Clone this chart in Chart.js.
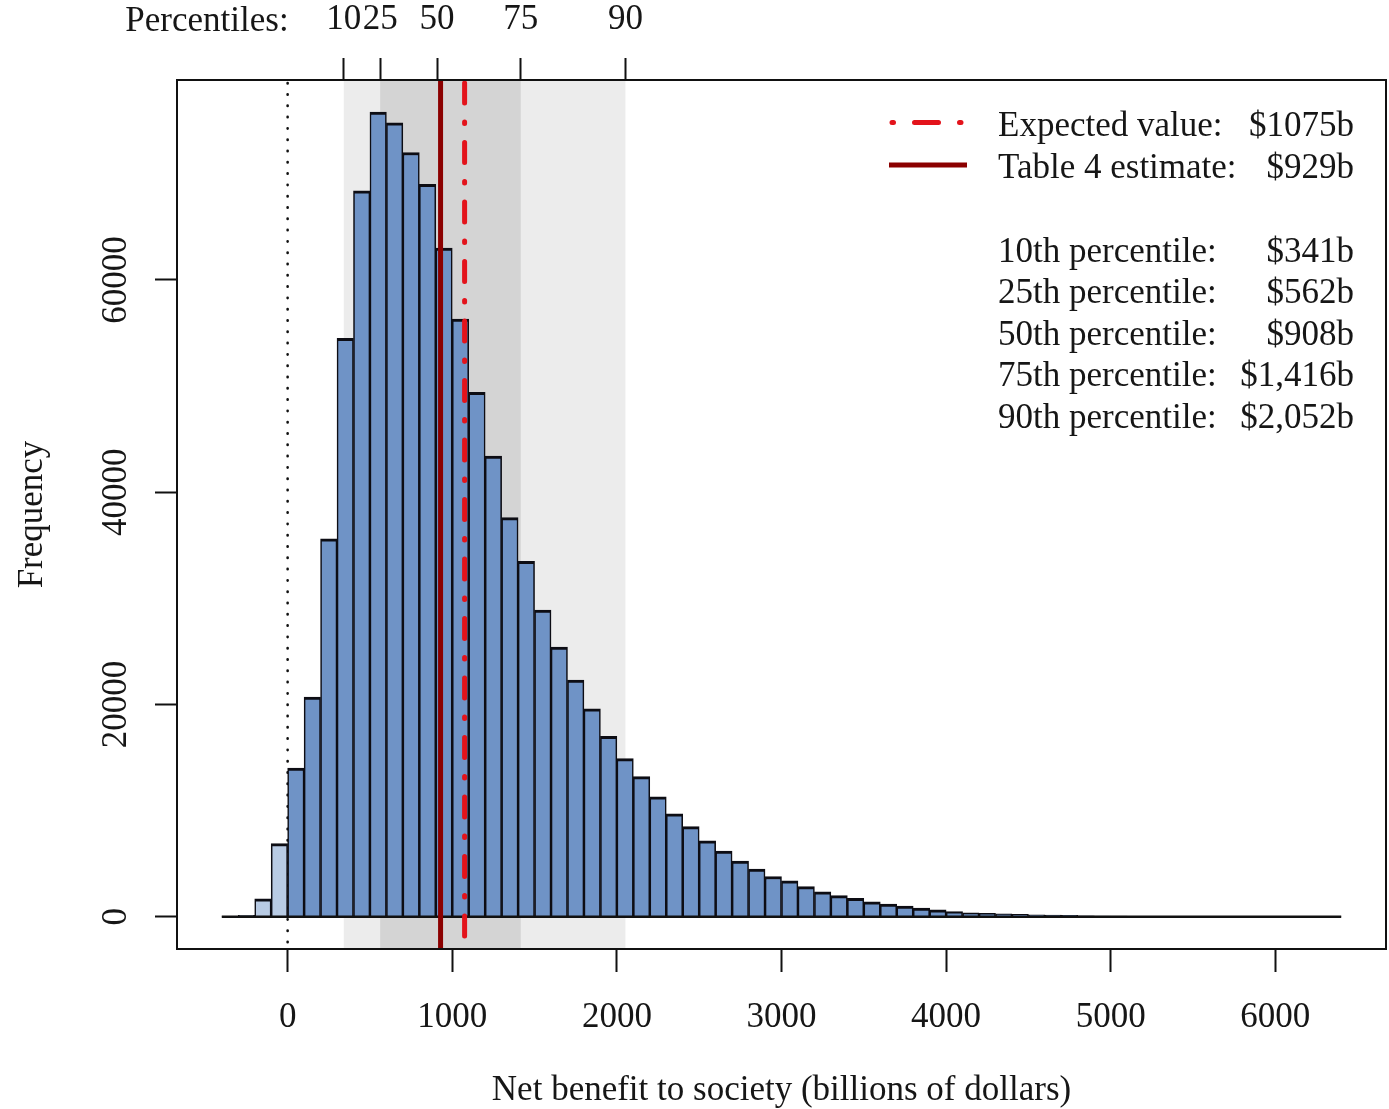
<!DOCTYPE html>
<html>
<head>
<meta charset="utf-8">
<script src="https://cdn.jsdelivr.net/npm/chart.js@4.4.1/dist/chart.umd.min.js"></script>
<style>
html,body{margin:0;padding:0;background:#fff;}
#wrap{width:1389px;height:1109px;position:relative;}
</style>
</head>
<body>
<div id="wrap"><canvas id="c"></canvas></div>
<script>
// ---------------- data ----------------
const binLefts = [-400,-300,-200,-100,0,100,200,300,400,500,600,700,800,900,
  1000,1100,1200,1300,1400,1500,1600,1700,1800,1900,2000,2100,2200,2300,2400,2500,
  2600,2700,2800,2900,3000,3100,3200,3300,3400,3500,3600,3700,3800,3900,4000,4100,
  4200,4300,4400,4500,4600,4700,4800,4900,5000,5100,5200,5300,5400,5500,5600,5700,
  5800,5900,6000,6100,6200,6300];
const binWidth = 100;
const counts = [10,140,1700,6900,14000,20700,35600,54500,68400,75800,74800,72000,69000,63000,
  56300,49400,43400,37600,33500,28900,25400,22300,19600,17000,14900,13200,11300,9700,8500,7150,
  6200,5250,4500,3800,3400,2850,2350,2000,1750,1400,1200,1000,820,650,500,380,
  320,270,240,190,160,130,100,80,60,45,35,25,18,14,10,7,
  5,4,3,2,1,1];

const percentileValues = [341, 562, 908, 1416, 2052];
const percentileTickLabels = ['10', '25', '50', '75', '90'];
const expectedValue = 1075;
const table4Estimate = 929;

const xTickValues = [0, 1000, 2000, 3000, 4000, 5000, 6000];
const yTickValues = [0, 20000, 40000, 60000];

const legendLineLabels = ['Expected value:', 'Table 4 estimate:'];
const legendLineValues = ['$1075b', '$929b'];
const percentileRowLabels = ['10th percentile:', '25th percentile:', '50th percentile:', '75th percentile:', '90th percentile:'];
const percentileRowValues = ['$341b', '$562b', '$908b', '$1,416b', '$2,052b'];

// ---------------- derived ----------------
const xLo = binLefts[0], xHi = binLefts[binLefts.length - 1] + binWidth;
const xPad = (xHi - xLo) * 0.04;
const yHi0 = Math.max(...counts);
const yPad = yHi0 * 0.04;

const barPoints = binLefts.map((l, i) => ({x: l + binWidth / 2, y: counts[i]}));
const barColors = binLefts.map(l => l < 0 ? '#b8cbe4' : '#6f93c6');

const FONT = 'Liberation Serif';
const TXT = '#161616';

const decor = {
  id: 'decor',
  beforeDatasetsDraw(chart) {
    const {ctx, chartArea: a, scales: {x}} = chart;
    const p = v => x.getPixelForValue(v);
    ctx.save();
    ctx.beginPath(); ctx.rect(a.left, a.top, a.width, a.height); ctx.clip();
    ctx.fillStyle = '#ececec';
    ctx.fillRect(p(percentileValues[0]), a.top, p(percentileValues[4]) - p(percentileValues[0]), a.height);
    ctx.fillStyle = '#d4d4d4';
    ctx.fillRect(p(percentileValues[1]), a.top, p(percentileValues[3]) - p(percentileValues[1]), a.height);
    // dotted zero line
    ctx.strokeStyle = '#111';
    ctx.lineWidth = 2.6;
    ctx.lineCap = 'round';
    ctx.setLineDash([0.4, 10.9]);
    ctx.beginPath();
    ctx.moveTo(p(0), a.top + 3);
    ctx.lineTo(p(0), a.bottom);
    ctx.stroke();
    ctx.restore();
  },
  afterDatasetsDraw(chart) {
    const {ctx, chartArea: a, scales: {x}} = chart;
    ctx.save();
    ctx.beginPath(); ctx.rect(a.left, a.top, a.width, a.height); ctx.clip();
    // Table 4 estimate
    ctx.strokeStyle = '#8b0000';
    ctx.lineWidth = 5;
    ctx.setLineDash([]);
    ctx.beginPath();
    ctx.moveTo(x.getPixelForValue(table4Estimate), a.top);
    ctx.lineTo(x.getPixelForValue(table4Estimate), a.bottom);
    ctx.stroke();
    // Expected value (dash-dot)
    ctx.strokeStyle = '#e3131b';
    ctx.lineWidth = 5;
    ctx.lineCap = 'round';
    ctx.setLineDash([20, 19, 1.5, 19]);
    ctx.beginPath();
    ctx.moveTo(x.getPixelForValue(expectedValue), a.top + 3);
    ctx.lineTo(x.getPixelForValue(expectedValue), a.bottom);
    ctx.stroke();
    ctx.restore();
  },
  afterDraw(chart) {
    const {ctx, chartArea: a, scales: {x}} = chart;
    ctx.save();
    // box
    ctx.strokeStyle = '#111';
    ctx.lineWidth = 2;
    ctx.strokeRect(a.left, a.top, a.width, a.height);
    // "Percentiles:" label
    ctx.fillStyle = TXT;
    ctx.font = `35px "${FONT}"`;
    ctx.textAlign = 'right';
    ctx.textBaseline = 'alphabetic';
    ctx.fillText('Percentiles:', x.getPixelForValue(0) + 1, 31);

    // legend samples
    const lx0 = a.right - 497, lx1 = a.right - 419;
    ctx.lineCap = 'round';
    ctx.strokeStyle = '#e3131b';
    ctx.lineWidth = 5;
    ctx.setLineDash([1.5, 21, 24, 21]);
    ctx.beginPath(); ctx.moveTo(lx0 + 3, a.top + 42.5); ctx.lineTo(lx1 - 4, a.top + 42.5); ctx.stroke();
    ctx.setLineDash([]);
    ctx.lineCap = 'butt';
    ctx.strokeStyle = '#8b0000';
    ctx.lineWidth = 5;
    ctx.beginPath(); ctx.moveTo(lx0, a.top + 85); ctx.lineTo(lx1, a.top + 85); ctx.stroke();

    // legend text
    const tx = a.right - 388, vx = a.right - 32;
    const rowsY = [136, 177.5];
    ctx.fillStyle = TXT;
    legendLineLabels.forEach((t, i) => {
      ctx.textAlign = 'left'; ctx.fillText(t, tx, rowsY[i]);
      ctx.textAlign = 'right'; ctx.fillText(legendLineValues[i], vx, rowsY[i]);
    });
    percentileRowLabels.forEach((t, i) => {
      const y = 261.5 + i * 41.5;
      ctx.textAlign = 'left'; ctx.fillText(t, tx, y);
      ctx.textAlign = 'right'; ctx.fillText(percentileRowValues[i], vx, y);
    });
    ctx.restore();
  }
};

const tickFont = {family: FONT, size: 35};

new Chart(document.getElementById('c'), {
  type: 'bar',
  data: {
    datasets: [
      {
        type: 'line',
        data: [{x: xLo, y: 0}, {x: xHi, y: 0}],
        borderColor: '#111',
        borderWidth: 2.5,
        pointRadius: 0,
        order: 0,
        xAxisID: 'x', yAxisID: 'y'
      },
      {
        type: 'bar',
        data: barPoints,
        backgroundColor: barColors,
        borderColor: '#0d0d14',
        borderWidth: {top: 3, left: 1.6, right: 1.6, bottom: 0},
        borderSkipped: 'start',
        barPercentage: 1,
        categoryPercentage: 1,
        order: 1,
        xAxisID: 'x', yAxisID: 'y'
      }
    ]
  },
  options: {
    responsive: true,
    maintainAspectRatio: false,
    animation: false,
    layout: {padding: {left: 0, top: 0, right: 3, bottom: 0}},
    plugins: {legend: {display: false}, tooltip: {enabled: false}},
    scales: {
      x: {
        type: 'linear', position: 'bottom',
        min: xLo - xPad, max: xHi + xPad, offset: false,
        afterBuildTicks: s => { s.ticks = xTickValues.map(v => ({value: v})); },
        afterFit: s => { s.height = 160; },
        ticks: {autoSkip: false, minRotation: 0, maxRotation: 0, padding: 25, color: TXT, font: tickFont,
                callback: v => String(v)},
        grid: {display: true, drawOnChartArea: false, drawTicks: true, tickLength: 23,
               tickColor: '#111', tickWidth: 2, offset: false},
        border: {display: false},
        title: {display: true, text: 'Net benefit to society (billions of dollars)', color: TXT,
                font: tickFont, padding: {top: 0, bottom: -3}}
      },
      xTop: {
        type: 'linear', position: 'top',
        min: xLo - xPad, max: xHi + xPad, offset: false,
        afterBuildTicks: s => { s.ticks = percentileValues.map(v => ({value: v})); },
        afterFit: s => { s.height = 80; },
        ticks: {autoSkip: false, minRotation: 0, maxRotation: 0, padding: 17, color: TXT, font: tickFont,
                callback: (v, i) => percentileTickLabels[i]},
        grid: {display: true, drawOnChartArea: false, drawTicks: true, tickLength: 22,
               tickColor: '#111', tickWidth: 2, offset: false},
        border: {display: false}
      },
      y: {
        type: 'linear', position: 'left',
        min: -yPad, max: yHi0 + yPad,
        afterBuildTicks: s => { s.ticks = yTickValues.map(v => ({value: v})); },
        afterFit: s => { s.width = 177; },
        ticks: {minRotation: 90, maxRotation: 90, crossAlign: 'center', padding: -6, color: TXT, font: tickFont,
                callback: v => String(v)},
        grid: {display: true, drawOnChartArea: false, drawTicks: true, tickLength: 22,
               tickColor: '#111', tickWidth: 2},
        border: {display: false},
        title: {display: true, text: 'Frequency', color: TXT, font: tickFont, padding: {top: 12, bottom: 0}}
      }
    }
  },
  plugins: [decor]
});
</script>
</body>
</html>
